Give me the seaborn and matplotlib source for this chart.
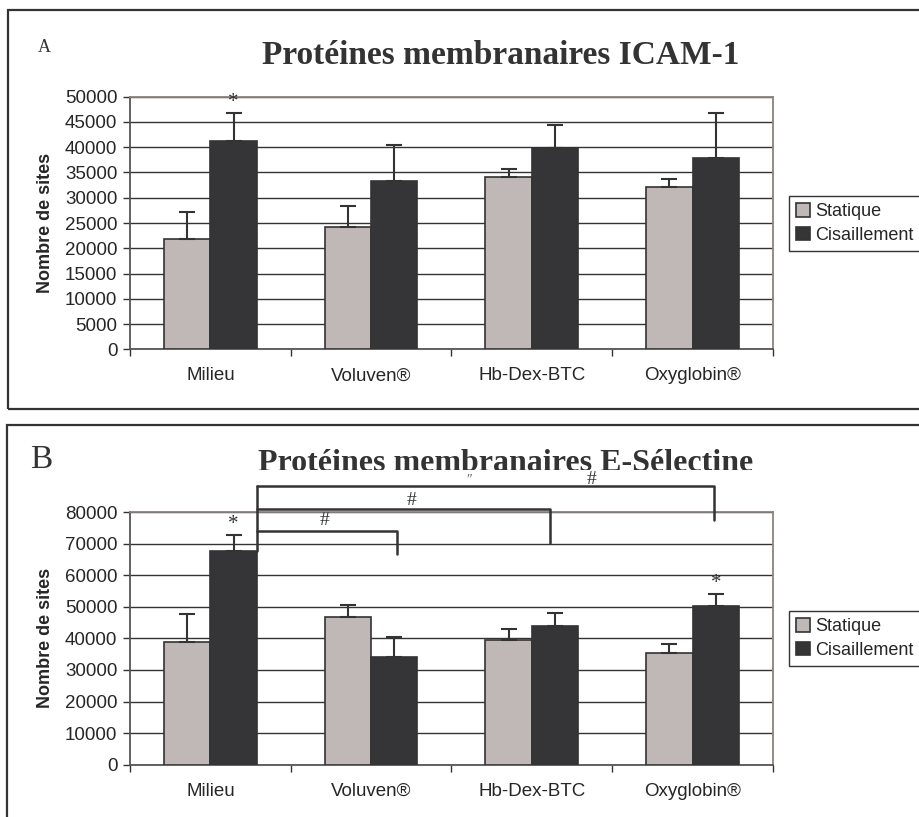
import pandas as pd
import seaborn as sns
import matplotlib.pyplot as plt
from matplotlib.patches import Rectangle
from matplotlib.transforms import Bbox, TransformedBbox

# données
categories = ["Milieu", "Voluven®", "Hb-Dex-BTC", "Oxyglobin®"]
groupes = ["Statique", "Cisaillement"]

icam_statique = [21800, 24300, 34200, 32100]
icam_cisaillement = [41300, 33300, 39900, 37900]
icam_sd_statique = [5300, 4100, 1550, 1600]
icam_sd_cisaillement = [5500, 7100, 4450, 8900]

esel_statique = [38900, 46900, 39600, 35500]
esel_cisaillement = [67700, 34000, 43800, 50400]
esel_sd_statique = [8800, 3600, 3400, 2700]
esel_sd_cisaillement = [4900, 6400, 4200, 3650]

# étoiles : (panneau, catégorie, groupe)
etoiles = [("A", 0, 1), ("B", 0, 1), ("B", 3, 1)]

# crochets de significativité du panneau B (depuis Milieu cisaillement)
crochet_droite = [1.16, 2.114, 3.134]
crochet_haut = [73900, 80970, 88350]
crochet_bas = [66620, 70300, 77480]
diese_x = [0.707, 1.249, 2.373]
diese_y = [77260, 83600, 90150]

couleurs = ["#c0b7b4", "#353438"]
gris = "#333333"

sns.set_style("white")
plt.rcParams["font.family"] = ["Liberation Sans", "DejaVu Sans"]

fig = plt.figure(figsize=(9.2, 8.17), dpi=100)


def faire_df(stat, cis):
    return pd.DataFrame({
        "condition": categories * 2,
        "groupe": [groupes[0]] * 4 + [groupes[1]] * 4,
        "valeur": stat + cis,
    })


def panneau(ax, stat, cis, sd_stat, sd_cis, ymax, pas):
    df = faire_df(stat, cis)
    sns.barplot(data=df, x="condition", y="valeur", hue="groupe", hue_order=groupes,
                palette=couleurs, width=0.577, gap=0, edgecolor=gris, linewidth=1.2,
                errorbar=None, legend=False, ax=ax, zorder=3)
    for cont, sd in zip(ax.containers, [sd_stat, sd_cis]):
        for bar, e in zip(cont, sd):
            xc = bar.get_x() + bar.get_width() / 2
            ax.errorbar(xc, bar.get_height(), yerr=[[0], [e]], color=gris, lw=1.5,
                        capsize=6, capthick=1.5, zorder=4)
    ax.set_xlim(-0.5, 3.5)
    ax.set_ylim(0, ymax)
    ax.set_yticks(range(0, ymax + 1, pas))
    ax.yaxis.grid(True, color=gris, lw=1)
    ax.set_axisbelow(True)
    ax.set_xlabel("")
    ax.set_ylabel("Nombre de sites", fontsize=13, fontweight="bold", labelpad=8)
    ax.tick_params(axis="y", labelsize=13.5, length=5, width=1, color=gris, pad=4, left=True)
    ax.tick_params(axis="x", which="major", labelsize=13.5, length=0, pad=13)
    ax.set_xticks([-0.5, 0.5, 1.5, 2.5, 3.5], minor=True)
    ax.tick_params(axis="x", which="minor", length=5, width=1, color=gris, bottom=True)
    for s in ["left", "bottom"]:
        ax.spines[s].set_color("#555555")
        ax.spines[s].set_linewidth(1.3)
    for s in ["top", "right"]:
        ax.spines[s].set_color("#8c817d")
        ax.spines[s].set_linewidth(1.3)
    return ax


axA = fig.add_axes([0.1413, 0.5725, 0.6989, 0.3091])
panneau(axA, icam_statique, icam_cisaillement, icam_sd_statique, icam_sd_cisaillement, 50000, 5000)
axB = fig.add_axes([0.1413, 0.0640, 0.6989, 0.3093])
panneau(axB, esel_statique, esel_cisaillement, esel_sd_statique, esel_sd_cisaillement, 80000, 10000)

sd_par = {"A": [icam_sd_statique, icam_sd_cisaillement], "B": [esel_sd_statique, esel_sd_cisaillement]}
axes = {"A": axA, "B": axB}
for p, i, g in etoiles:
    bar = axes[p].containers[g][i]
    xc = bar.get_x() + bar.get_width() / 2
    axes[p].annotate("*", (xc, bar.get_height() + sd_par[p][g][i]), xytext=(0, 1),
                     textcoords="offset points", ha="center", va="bottom",
                     fontsize=15, family="Liberation Serif", color=gris)

# crochets
barre_milieu = axB.containers[1][0]
x0 = barre_milieu.get_x() + barre_milieu.get_width()
axB.plot([x0, x0], [barre_milieu.get_height(), max(crochet_haut)], color=gris, lw=1.8,
         clip_on=False, zorder=5)
for xd, yh, yb in zip(crochet_droite, crochet_haut, crochet_bas):
    axB.plot([x0, xd, xd], [yh, yh, yb], color=gris, lw=1.8, clip_on=False, zorder=5)
for xh, yh in zip(diese_x, diese_y):
    axB.text(xh, yh, "#", ha="center", va="center", fontsize=14,
             family="Liberation Serif", color=gris, clip_on=False)
axB.text(1.61, 90150, "\u2033", ha="center", va="center", fontsize=10,
         family="Liberation Serif", color="#666666", clip_on=False)

# légendes
for ax, y in [(axA, 1 - 196 / 817), (axB, 1 - 611 / 817)]:
    ax.legend(ax.containers, groupes, loc="upper left", bbox_to_anchor=(789 / 920, y),
              bbox_transform=fig.transFigure, fontsize=13, frameon=True, fancybox=False,
              edgecolor=gris, framealpha=1, handlelength=0.75, handleheight=0.75,
              handletextpad=0.3, borderpad=0.4, labelspacing=0.35, borderaxespad=0)

# titres
fig.text(501 / 920, 1 - 55 / 817, "Protéines membranaires ICAM-1", ha="center", va="center",
         fontsize=24, fontweight="bold", family="Liberation Serif", color=gris)
tB = fig.text(506 / 920, 1 - 471 / 817, "Protéines membranaires E-Sélectine", ha="center",
              va="baseline", fontsize=23, fontweight="bold", family="Liberation Serif", color=gris)
tB.set_clip_box(TransformedBbox(Bbox([[0, 1 - 470 / 817], [1, 1]]), fig.transFigure))
tB.set_clip_on(True)
fig.text(44 / 920, 1 - 47 / 817, "A", ha="center", va="center", fontsize=13,
         family="Liberation Serif", color=gris)
fig.text(41 / 920, 1 - 460 / 817, "B", ha="center", va="center", fontsize=24,
         family="Liberation Serif", color=gris)

# cadres des panneaux
fig.patches.append(Rectangle((8 / 920, 1 - 409 / 817), 1.1, 399 / 817, transform=fig.transFigure,
                             fill=False, ec=gris, lw=1.6, figure=fig))
fig.patches.append(Rectangle((7 / 920, -0.05), 1.1, 1 - 425 / 817 + 0.05, transform=fig.transFigure,
                             fill=False, ec=gris, lw=1.6, figure=fig))

fig.savefig("out.png", dpi=100)
